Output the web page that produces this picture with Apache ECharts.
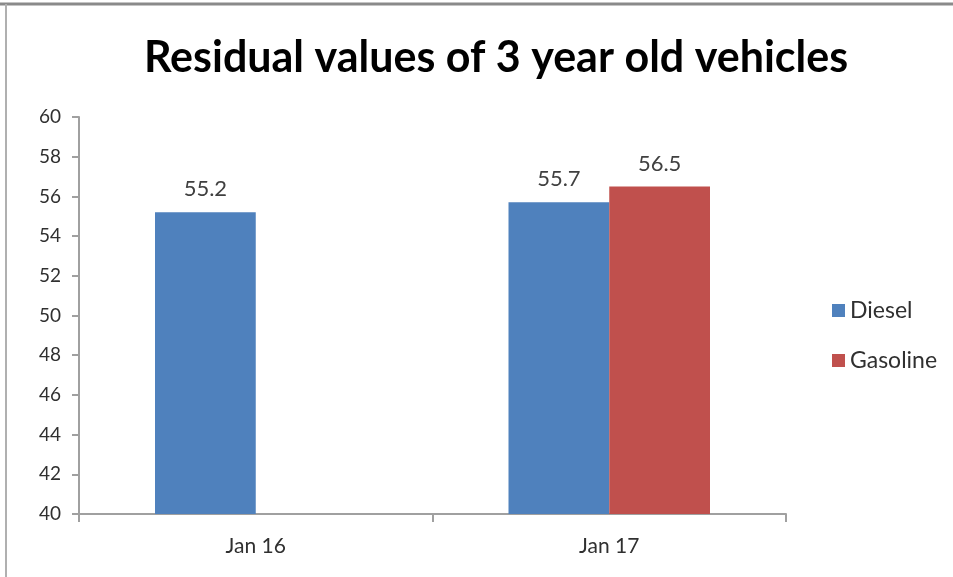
<!DOCTYPE html>
<html><head><meta charset="utf-8">
<script src="https://cdn.jsdelivr.net/npm/echarts@6/dist/echarts.min.js"></script>
<style>html,body{margin:0;padding:0;background:#fff}#c{width:953px;height:577px}</style>
</head><body><div id="c"></div>
<script>
const categories = ['Jan 16', 'Jan 17'];
const diesel = [55.2, 55.7];
const gasoline = [null, 56.5];
const yTicks = {min: 40, max: 60, interval: 2};
const titleText = 'Residual values of 3 year old vehicles';

const chart = echarts.init(document.getElementById('c'));
const lbl = {show: true, position: 'top', distance: 12, color: '#404040', fontSize: 22, fontFamily: 'Lato'};
chart.setOption({
  animation: false,
  title: {text: titleText, left: 491, textAlign: 'center', top: 32,
    textStyle: {fontFamily: 'Lato', fontWeight: 'bold', fontSize: 43, color: '#000'}},
  graphic: [
    {type: 'line', shape: {x1: 0, y1: 4, x2: 953, y2: 4}, style: {stroke: '#8a8a8a', lineWidth: 3}},
    {type: 'line', shape: {x1: 6, y1: 4, x2: 6, y2: 577}, style: {stroke: '#b0b0b0', lineWidth: 2}}
  ],
  legend: {orient: 'vertical', left: 827, top: 294, itemWidth: 13, itemHeight: 13, itemGap: 27,
    icon: 'rect', textStyle: {fontFamily: 'Lato', fontSize: 23, color: '#303030'},
    data: ['Diesel', 'Gasoline']},
  grid: {left: 79, right: 167, top: 117, bottom: 63},
  xAxis: {type: 'category', data: categories,
    axisLine: {lineStyle: {color: '#a0a0a0', width: 2}},
    axisTick: {show: true, length: 8, lineStyle: {color: '#a0a0a0', width: 2}},
    axisLabel: {fontFamily: 'Lato', fontSize: 21, color: '#303030', margin: 22}},
  yAxis: {type: 'value', min: yTicks.min, max: yTicks.max, interval: yTicks.interval,
    axisLine: {show: true, lineStyle: {color: '#a0a0a0', width: 2}},
    axisTick: {show: true, length: 7, lineStyle: {color: '#a0a0a0', width: 2}},
    splitLine: {show: false},
    axisLabel: {fontFamily: 'Lato', fontSize: 19, color: '#303030', margin: 18}},
  series: [
    {name: 'Diesel', type: 'bar', data: diesel, barGap: '0%', barCategoryGap: '43%',
     itemStyle: {color: '#4F81BD'}, label: lbl},
    {name: 'Gasoline', type: 'bar', data: gasoline, barGap: '0%', barCategoryGap: '43%',
     itemStyle: {color: '#C0504D'}, label: lbl}
  ]
});
</script></body></html>
